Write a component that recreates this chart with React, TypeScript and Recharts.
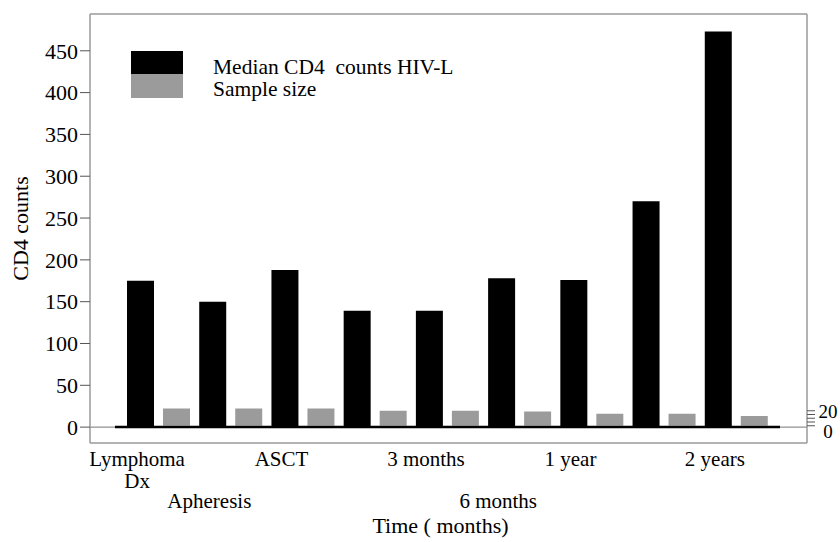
import { BarChart, Bar, XAxis, YAxis, ReferenceLine, Legend } from "recharts";

// time points (two of them carry no label in the figure)
const timepoints = ["Lymphoma Dx", "Apheresis", "ASCT", "", "3 months", "6 months", "1 year", "", "2 years"];
const tickLines = [["Lymphoma", "Dx"], ["Apheresis"], ["ASCT"], [], ["3 months"], ["6 months"], ["1 year"], [], ["2 years"]];
const tickRow = [0, 1, 0, 0, 0, 1, 0, 0, 0];

const medianCD4 = [175, 150, 188, 139, 139, 178, 176, 270, 473];
const sampleSize = [23, 23, 23, 20, 20, 19, 16, 16, 13];

const leftTicks = [0, 50, 100, 150, 200, 250, 300, 350, 400, 450];
const rightTicks = [0, 5, 10, 15, 20];
const rightLabels = [0, 20];

const seriesNames = ["Median CD4  counts HIV-L", "Sample size"];
const seriesColors = ["#000000", "#9b9b9b"];

const data = timepoints.map((t, i) => ({ time: t, cd4: medianCD4[i], n: sampleSize[i] }));

const FONT = "'Liberation Serif', 'Times New Roman', serif";
const FRAME = "#9a9a9a";

const TimeTick = (props: any) => {
    const { x, y, payload } = props;
    const i = props.index ?? payload.index;
    const lines = tickLines[i] || [];
    const base = tickRow[i] === 1 ? 65 : 23;
    // labels sit under the black bar of each pair
    return (
        <g>
            {lines.map((l, k) => (
                <text key={k} x={x - 21} y={y + base + k * 22} textAnchor="middle" fontSize={21} fontFamily={FONT} fill="#000">
                    {l}
                </text>
            ))}
        </g>
    );
};

const RightTick = (props: any) => {
    const { x, y, payload } = props;
    if (!rightLabels.includes(payload.value)) return <g />;
    const shift = payload.value === 0 ? 6 : 1;
    return (
        <text x={x + 11} y={y + shift} dy="0.35em" textAnchor="middle" fontSize={19} fontFamily={FONT} fill="#000">
            {payload.value}
        </text>
    );
};

// black baseline, a bit shorter than the frame on both sides
const Baseline = (p: any) => (
    <line x1={p.x1 + 25} y1={p.y1} x2={p.x2 - 27} y2={p.y2} stroke="#000" strokeWidth={2.5} />
);

const LegendBox = () => (
    <div style={{ position: "relative", width: 360, height: 48, fontFamily: FONT, fontSize: 21.5, color: "#000" }}>
        <div style={{ position: "absolute", left: 0, top: 0, width: 52, height: 23, background: seriesColors[0] }} />
        <div style={{ position: "absolute", left: 0, top: 23, width: 52, height: 24, background: seriesColors[1] }} />
        <div style={{ position: "absolute", left: 82, top: 5, whiteSpace: "pre", lineHeight: "22px" }}>{seriesNames[0]}</div>
        <div style={{ position: "absolute", left: 82, top: 27, whiteSpace: "pre", lineHeight: "22px" }}>{seriesNames[1]}</div>
    </div>
);

export default function App() {
    return (
        <div style={{ position: "absolute", left: 0, top: 0, width: 840, height: 542, background: "#fff" }}>
            <BarChart
                width={840}
                height={542}
                data={data}
                margin={{ top: 14, right: 0, bottom: 0, left: 0 }}
                barSize={27}
                barGap={9}
                style={{ fontFamily: FONT }}
            >
                <XAxis
                    dataKey="time"
                    height={99}
                    padding={{ left: 32, right: 35 }}
                    interval={0}
                    tickLine={false}
                    tickSize={0}
                    tickMargin={0}
                    tick={<TimeTick />}
                    axisLine={{ stroke: FRAME, strokeWidth: 1.5 }}
                    label={{ value: "Time ( months)", position: "insideBottom", offset: 9, dx: -8, fontSize: 22, fill: "#000", fontFamily: FONT, style: { whiteSpace: "pre" } }}
                />
                <YAxis
                    yAxisId="left"
                    width={90}
                    domain={[-19, 494]}
                    allowDataOverflow
                    ticks={leftTicks}
                    interval={0}
                    tickSize={10}
                    tick={{ fontSize: 22, fill: "#000", fontFamily: FONT }}
                    tickLine={{ stroke: "#555" }}
                    axisLine={{ stroke: FRAME, strokeWidth: 1.5 }}
                    label={{ value: "CD4 counts", angle: -90, position: "insideLeft", offset: 20, fontSize: 22, fill: "#000", fontFamily: FONT, style: { textAnchor: "middle" } }}
                />
                <YAxis
                    yAxisId="right"
                    orientation="right"
                    width={33}
                    domain={[-23, 549]}
                    allowDataOverflow
                    ticks={rightTicks}
                    interval={0}
                    tickSize={8}
                    tick={<RightTick />}
                    tickLine={{ stroke: "#555" }}
                    axisLine={{ stroke: FRAME, strokeWidth: 1.5 }}
                />
                <Legend
                    layout="horizontal"
                    verticalAlign="middle"
                    align="center"
                    content={<LegendBox />}
                    wrapperStyle={{ left: 131, top: 51, width: 360 }}
                />
                {/* top edge of the frame */}
                <ReferenceLine yAxisId="left" y={494} stroke={FRAME} strokeWidth={1.5} />
                <ReferenceLine yAxisId="left" y={0} stroke="#777" strokeWidth={1} />
                <Bar yAxisId="left" dataKey="cd4" name={seriesNames[0]} fill={seriesColors[0]} isAnimationActive={false} />
                <Bar yAxisId="right" dataKey="n" name={seriesNames[1]} fill={seriesColors[1]} isAnimationActive={false} />
                <ReferenceLine yAxisId="left" y={0} shape={Baseline} />
            </BarChart>
        </div>
    );
}
